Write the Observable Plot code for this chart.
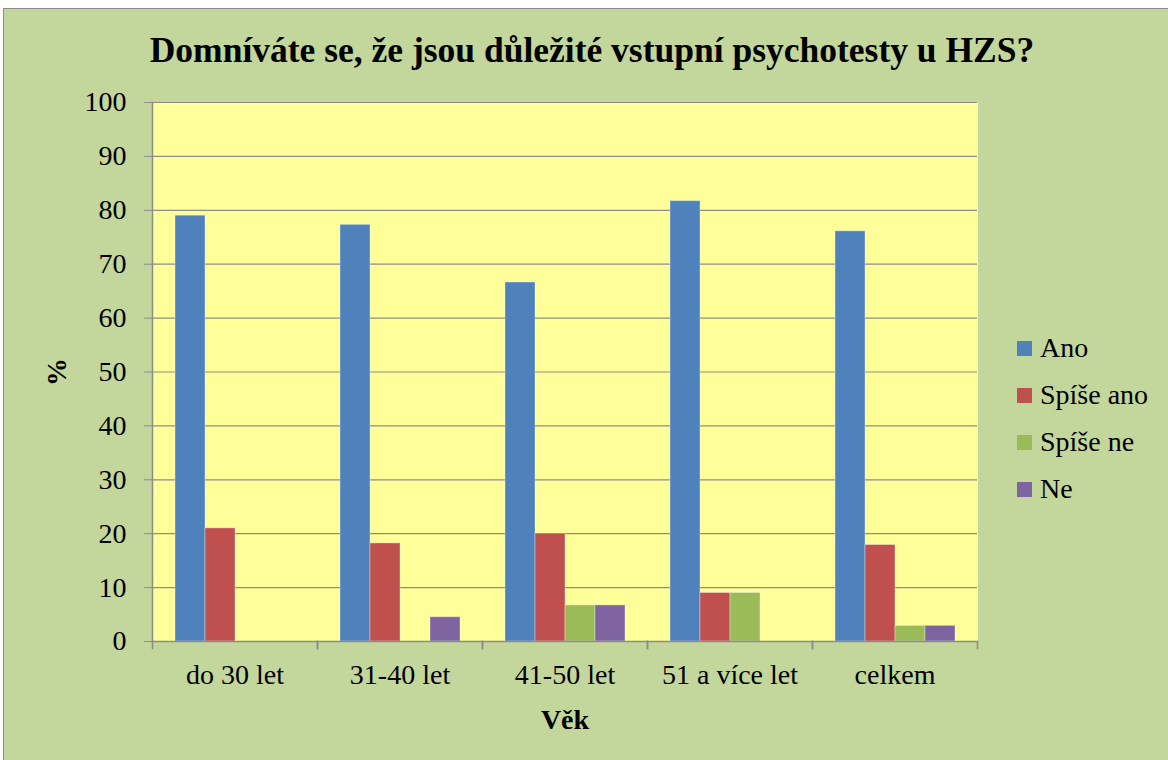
<!DOCTYPE html>
<html>
<head>
<meta charset="utf-8">
<script src="https://cdn.jsdelivr.net/npm/d3@7"></script>
<script src="https://cdn.jsdelivr.net/npm/@observablehq/plot@0.6"></script>
<style>
  html, body { margin: 0; padding: 0; background: #ffffff; width: 1168px; height: 760px; overflow: hidden; }
  #frame { position: absolute; left: 3px; top: 8px; width: 1164px; height: 751px; background: #C3D69B; border-left: 1.5px solid #8c8c8c; border-top: 1.5px solid #8c8c8c; }
  #title { position: absolute; left: 12px; width: 1160px; top: 29px; text-align: center; font-family: "Liberation Serif", "Times New Roman", serif; font-weight: bold; font-size: 35.5px; line-height: 42px; color: #000; white-space: nowrap; }
  #chart { position: absolute; left: 0px; top: 85px; width: 990px; height: 656px; }
  #legend { position: absolute; left: 1017px; top: 331px; width: 150px; height: 190px; font-family: "Liberation Serif", "Times New Roman", serif; font-size: 28px; line-height: 34px; color: #000; }
  .item { white-space: nowrap; display: flex; align-items: center; height: 34px; margin-bottom: 13px; }
  .sw { width: 15px; height: 15px; margin-right: 8px; flex: none; }
  #chart g[aria-label$="axis label"] text { font-weight: bold; }
</style>
</head>
<body>
<div id="frame"></div>
<div id="title">Domníváte se, že jsou důležité vstupní psychotesty u HZS?</div>
<div id="chart"></div>
<div id="legend"></div>
<script>
const categories = ["do 30 let", "31-40 let", "41-50 let", "51 a více let", "celkem"];
const series = ["Ano", "Spíše ano", "Spíše ne", "Ne"];
const ano      = [79.0, 77.3, 66.6, 81.7, 76.1];
const spiseAno = [21.0, 18.2, 20.0, 9.0, 17.9];
const spiseNe  = [0, 0, 6.7, 9.0, 2.9];
const ne       = [0, 4.5, 6.7, 0, 2.9];
const colors = ["#4F81BD", "#C0504D", "#9BBB59", "#8064A2"];
const yTicks = [0, 10, 20, 30, 40, 50, 60, 70, 80, 90, 100];

const valuesBySeries = [ano, spiseAno, spiseNe, ne];
const rows = [];
categories.forEach((c, i) => {
  series.forEach((s, j) => rows.push({cat: c, series: s, value: valuesBySeries[j][i]}));
});

const marginTop = 17, marginBottom = 100, height = 656;
const innerHeight = height - marginTop - marginBottom;
const serif = "'Liberation Serif', 'Times New Roman', serif";

const chart = Plot.plot({
  width: 990,
  height,
  marginLeft: 151,
  marginRight: 13,
  marginTop,
  marginBottom,
  style: {background: "transparent", fontFamily: serif, fontSize: "28px", color: "#000"},
  fx: {domain: categories, padding: 0},
  x: {domain: series, paddingInner: 0, paddingOuter: 0.75, axis: null},
  y: {domain: [0, 100]},
  color: {domain: series, range: colors},
  marks: [
    Plot.frame({fill: "#FFFF99", stroke: null, insetLeft: -0.5, insetRight: -0.5}),
    Plot.gridY(yTicks, {stroke: "#8c8c8c", strokeOpacity: 1, strokeWidth: 1.2}),
    Plot.barY(rows, {fx: "cat", x: "series", y: "value", fill: "series", stroke: "#ffffff", strokeOpacity: 0.35, strokeWidth: 1}),
    Plot.frame({anchor: "bottom", stroke: "#8c8c8c", strokeWidth: 1.5}),
    Plot.frame({anchor: "left", stroke: "#8c8c8c", strokeWidth: 1.5, insetTop: innerHeight, insetBottom: -7}),
    Plot.frame({anchor: "right", stroke: "#8c8c8c", strokeWidth: 1.5, insetTop: innerHeight, insetBottom: -7}),
    Plot.frame({anchor: "left", stroke: "#8c8c8c", strokeWidth: 1.5, facetAnchor: "left"}),
    Plot.axisY(yTicks, {tickSize: 8, tickPadding: 18, stroke: "#8c8c8c", fontSize: 28, label: "%", labelAnchor: "center", labelArrow: false, labelOffset: 106}),
    Plot.axisFx({anchor: "bottom", tickSize: 0, tickPadding: 23, fontSize: 28, label: "Věk", labelAnchor: "center", labelArrow: false, labelOffset: 87})
  ]
});
document.getElementById("chart").appendChild(chart);

const legend = document.getElementById("legend");
series.forEach((s, j) => {
  const d = document.createElement("div");
  d.className = "item";
  d.innerHTML = `<span class="sw" style="background:${colors[j]}"></span><span>${s}</span>`;
  legend.appendChild(d);
});
</script>
</body>
</html>
